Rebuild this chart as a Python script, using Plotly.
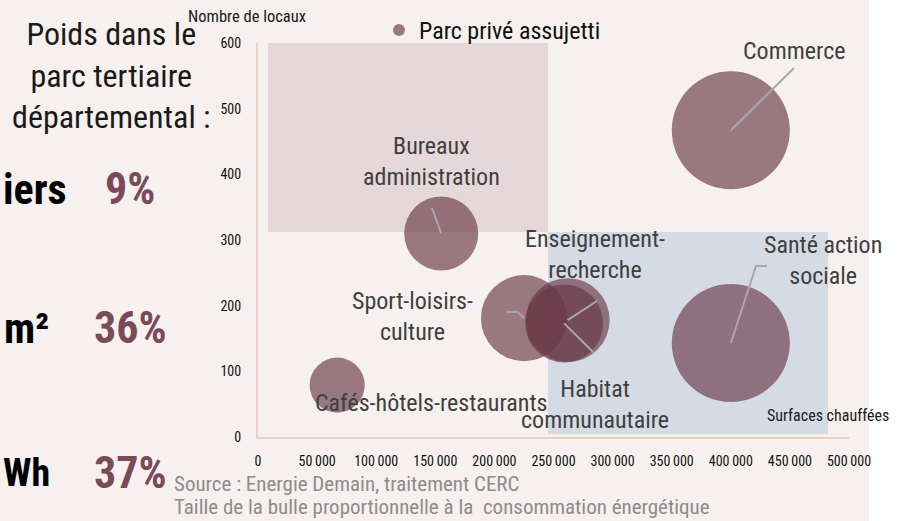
import plotly.graph_objects as go

# ---------------- data ----------------
categories = ["Commerce", "Santé action sociale", "Bureaux administration",
              "Sport-loisirs-culture", "Enseignement-recherche",
              "Habitat communautaire", "Cafés-hôtels-restaurants"]
surfaces = [400000, 400000, 155000, 225000, 262000, 259000, 67000]   # m² chauffés
locaux = [467, 143, 310, 181, 178, 173, 79]                          # nombre de locaux
consommation = [348, 348, 137, 185, 176, 152, 76]                    # consommation (taille bulle)

x_ticks = [0, 50000, 100000, 150000, 200000, 250000, 300000, 350000, 400000, 450000, 500000]
x_ticktext = ["0", "50\u2009000", "100\u2009000", "150\u2009000", "200\u2009000", "250\u2009000",
              "300\u2009000", "350\u2009000", "400\u2009000", "450\u2009000", "500\u2009000"]
y_ticks = [0, 100, 200, 300, 400, 500, 600]

poids_labels = ["iers", "m²", "Wh"]          # visible (cropped) unit texts
poids_values = ["9%", "36%", "37%"]

# ---------------- layout helpers ----------------
FW, FH = 899, 521
L, R, T, B = 258, 50, 43, 84
PW, PH = FW - L - R, FH - T - B
XMAX, YMAX = 500000, 600

def xp(px):  # pixel -> paper x
    return (px - L) / PW

def yp(py):  # pixel -> paper y
    return (FH - B - py) / PH

def xd(px):  # pixel -> data x
    return (px - L) / PW * XMAX

def yd(py):  # pixel -> data y
    return (FH - B - py) / PH * YMAX

NARROW = "Liberation Sans Narrow, Arial Narrow, Roboto Condensed, Liberation Sans, sans-serif"
BUBBLE = "rgb(105,55,70)"
LABEL_COL = "#404040"

max_d = 118
sizeref = 2 * max(consommation) / (max_d ** 2)

fig = go.Figure()
fig.add_trace(go.Scatter(
    x=surfaces, y=locaux, mode="markers", name="Parc privé assujetti",
    text=categories,
    marker=dict(size=consommation, sizemode="area", sizeref=sizeref,
                color=BUBBLE, opacity=0.65, line=dict(width=0)),
    hovertemplate="%{text}<br>%{x} m²<br>%{y} locaux<extra></extra>",
))

shapes = []
# background white strip on the right
shapes.append(dict(type="rect", xref="paper", yref="paper", x0=xp(869), x1=xp(FW + 5),
                   y0=yp(FH + 5), y1=yp(-5), fillcolor="white", line=dict(width=0), layer="below"))
# highlighted zones
shapes.append(dict(type="rect", xref="x", yref="y", x0=xd(268), x1=xd(548), y0=yd(232), y1=yd(43),
                   fillcolor="#E6D7DB", line=dict(width=0), layer="below"))
shapes.append(dict(type="rect", xref="x", yref="y", x0=xd(548), x1=xd(828), y0=yd(434), y1=yd(232),
                   fillcolor="#D5DBE4", line=dict(width=0), layer="below"))

# leader lines: from bubble centre to label
leaders = {
    0: [(794, 68)],
    1: [(756, 266), (767, 266)],
    2: [(432, 208)],
    3: [(518, 312), (507, 312)],
    4: [(597, 301)],
    5: [(594, 353)],
}
for i, pts in leaders.items():
    path = f"M {surfaces[i]},{locaux[i]}"
    for (px_, py_) in pts:
        path += f" L {xd(px_)},{yd(py_)}"
    shapes.append(dict(type="path", xref="x", yref="y", path=path,
                       line=dict(color="#A8A8A8", width=2), layer="above"))

ann = []
def label(text, px_, py_, size=24, align="center", xanchor="center", color=LABEL_COL, family=NARROW):
    ann.append(dict(text=text, x=xd(px_), y=yd(py_), xref="x", yref="y", showarrow=False,
                    xanchor=xanchor, yanchor="middle", align=align,
                    font=dict(family=family, size=size, color=color)))

label("Commerce", 794, 51)
label("Santé action<br>sociale", 823, 260)
label("Bureaux<br>administration", 431, 161)
label("Sport-loisirs-<br>culture", 412, 316)
label("Enseignement-<br>recherche", 595, 254)
label("Habitat<br>communautaire", 595, 404)
label("Cafés-hôtels-restaurants", 431, 403)
label("Surfaces chauffées", 828, 415, size=16, color="#1A1A1A")

def pap(text, px_, py_, size, xanchor="center", align="center", color="#1A1A1A", family=NARROW, bold=False):
    ann.append(dict(text=f"<b>{text}</b>" if bold else text, x=xp(px_), y=yp(py_), xref="paper", yref="paper",
                    showarrow=False, xanchor=xanchor, yanchor="middle", align=align,
                    font=dict(family=family, size=size, color=color)))

pap("Nombre de locaux", 247, 17, 16.5, color="#1A1A1A")
pap("Poids dans le<br>parc tertiaire<br>départemental :", 111, 75, 32)
rows_y = [189, 328, 473]
rows_x = [(1, "left"), (51, "right"), (1, "left")]
rows_size = [42, 42, 38]
for lab, val, yy, (xx, anc), sz in zip(poids_labels, poids_values, rows_y, rows_x, rows_size):
    pap(lab, xx, yy, sz, xanchor=anc, color="#000000", bold=True)
    pap(val, 130, yy, 44, color="#7B4A5A", bold=True)
pap("Source : Energie Demain, traitement CERC", 172, 484, 21, xanchor="left", align="left", color="#8C8C8C")
pap("Taille de la bulle proportionnelle à la  consommation énergétique", 172, 507, 21,
    xanchor="left", align="left", color="#8C8C8C")

fig.update_layout(
    width=FW, height=FH,
    margin=dict(l=L, r=R, t=T, b=B, autoexpand=False),
    paper_bgcolor="#F6F1EF", plot_bgcolor="rgba(0,0,0,0)",
    shapes=shapes, annotations=ann,
    showlegend=True,
    legend=dict(orientation="h", x=xp(379), y=yp(8), xanchor="left", yanchor="top",
                bgcolor="rgba(0,0,0,0)", itemsizing="constant",
                font=dict(family=NARROW, size=24, color="#111111")),
    font=dict(family=NARROW, color="#111111"),
    xaxis=dict(range=[0, XMAX], showgrid=False, zeroline=False, showline=True,
               linecolor="#EBD0C9", linewidth=2, ticks="", tickvals=x_ticks, ticktext=x_ticktext,
               tickfont=dict(family=NARROW, size=14, color="#111111"), ticklabelstandoff=10,
               fixedrange=True),
    yaxis=dict(range=[0, YMAX], showgrid=False, zeroline=False, showline=True,
               linecolor="#EBD0C9", linewidth=2, ticks="", tickvals=y_ticks,
               tickfont=dict(family=NARROW, size=14, color="#111111"), ticklabelstandoff=12,
               fixedrange=True),
)

fig.write_html("out.html", config={"displayModeBar": False},
               post_script="document.body.style.margin='0px';document.body.style.padding='0px';document.body.style.overflow='hidden';")
